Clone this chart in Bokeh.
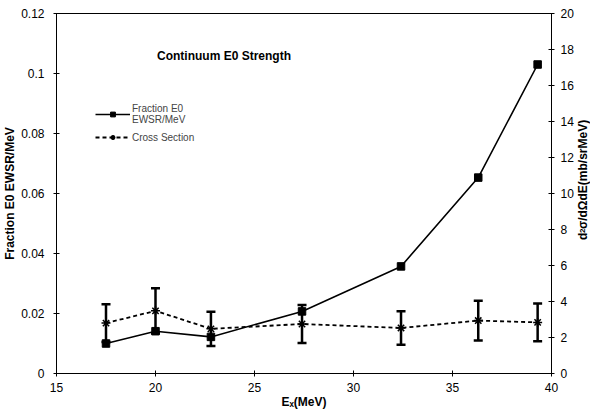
from bokeh.plotting import figure
from bokeh.layouts import row
from bokeh.models import (LinearAxis, Range1d, FixedTicker, Whisker, TeeHead,
                          ColumnDataSource, Legend, LegendItem, Label, Div)
from bokeh.embed import file_html
from bokeh.resources import INLINE

# ---- data ----
ex = [17.5, 20.0, 22.8, 27.4, 32.4, 36.3, 39.3]
frac = [0.0100, 0.0141, 0.0122, 0.0207, 0.0357, 0.0653, 0.1030]
cs = [2.80, 3.48, 2.48, 2.75, 2.53, 2.94, 2.84]
cs_err = [1.05, 1.25, 0.95, 1.05, 0.93, 1.10, 1.05]

x_ticks = [15, 20, 25, 30, 35, 40]
left_ticks = [0, 0.02, 0.04, 0.06, 0.08, 0.1, 0.12]
left_tick_labels = ["0", "0.02", "0.04", "0.06", "0.08", "0.1", "0.12"]
right_ticks = [0, 2, 4, 6, 8, 10, 12, 14, 16, 18, 20]

FONT = "Liberation Sans"

p = figure(width=576, height=413, output_backend="svg", toolbar_location=None,
           x_range=Range1d(15, 40), y_range=Range1d(0, 0.12),
           min_border_left=56, min_border_right=22, min_border_top=13,
           min_border_bottom=40)
p.extra_y_ranges = {"right": Range1d(0, 20)}
p.xgrid.visible = False
p.ygrid.visible = False
p.outline_line_color = "black"
p.outline_line_width = 1
p.background_fill_color = "white"
p.border_fill_color = "white"


def style_axis(ax):
    ax.axis_line_color = "black"
    ax.major_tick_line_color = "black"
    ax.major_tick_in = 3
    ax.major_tick_out = 3
    ax.minor_tick_line_color = None
    ax.major_label_text_font = FONT
    ax.major_label_text_font_size = "12px"
    ax.major_label_text_color = "black"
    ax.axis_label_text_font = FONT
    ax.axis_label_text_font_size = "12px"
    ax.axis_label_text_font_style = "bold"
    ax.axis_label_text_color = "black"


xa = p.xaxis[0]
style_axis(xa)
xa.ticker = FixedTicker(ticks=x_ticks)
xa.axis_label = "E\u2093(MeV)"
xa.major_label_standoff = 6
xa.axis_label_standoff = 0

ya = p.yaxis[0]
style_axis(ya)
ya.ticker = FixedTicker(ticks=left_ticks)
ya.major_label_overrides = {t: l for t, l in zip(left_ticks, left_tick_labels)}
ya.axis_label = "Fraction E0 EWSR/MeV"
ya.major_label_standoff = 9
ya.axis_label_standoff = 1

ra = LinearAxis(y_range_name="right")
style_axis(ra)
ra.ticker = FixedTicker(ticks=right_ticks)
ra.major_label_standoff = 6
p.add_layout(ra, "right")

src = ColumnDataSource(dict(
    ex=ex, frac=frac, cs=cs,
    lo=[c - e for c, e in zip(cs, cs_err)],
    hi=[c + e for c, e in zip(cs, cs_err)],
))

w = Whisker(base="ex", upper="hi", lower="lo", source=src, y_range_name="right",
            line_color="black", line_width=2.5,
            upper_head=TeeHead(size=9, line_width=2.5, line_color="black"),
            lower_head=TeeHead(size=9, line_width=2.5, line_color="black"))
p.add_layout(w)

l1 = p.line("ex", "frac", source=src, line_color="black", line_width=1.6)
m1 = p.scatter("ex", "frac", source=src, marker="square", size=7.5,
               fill_color="black", line_color="black")

l2 = p.line("ex", "cs", source=src, y_range_name="right", line_color="black",
            line_width=1.8, line_dash="4 3")
m2 = p.scatter("ex", "cs", source=src, y_range_name="right", marker="asterisk",
               size=9, line_color="black", line_width=1.5)

legend = Legend(items=[
    LegendItem(label="Fraction E0\nEWSR/MeV", renderers=[l1, m1]),
    LegendItem(label="Cross Section", renderers=[l2, m2]),
], location=(39, 230), border_line_color=None, background_fill_alpha=0,
    label_text_font=FONT, label_text_font_size="10px", glyph_width=35,
    glyph_height=12, label_standoff=2, spacing=6, padding=0, margin=0,
    label_height=10)
p.add_layout(legend)

title = Label(x=23.46, y=0.106, text="Continuum E0 Strength",
              text_font=FONT, text_font_size="12px", text_font_style="bold",
              text_align="center", text_baseline="middle", text_color="black")
p.add_layout(title)

right_label_html = (
    '<div style="height:413px;width:14px;box-sizing:border-box;'
    'padding-top:53px;writing-mode:vertical-rl;transform:rotate(180deg);'
    'display:flex;align-items:center;justify-content:center;white-space:nowrap;'
    "font-family:'Liberation Sans';font-size:12px;font-weight:bold;color:black;"
    'line-height:14px;">'
    'd<sup style="font-size:8px;">2</sup>\u03c3/d\u03a9dE(mb/srMeV)</div>'
)
right_label = Div(text=right_label_html, width=14, height=413,
                  margin=(0, 0, 0, 0), styles={"background": "white"})

layout = row(p, right_label, spacing=0)

open("out.html", "w").write(file_html(layout, INLINE))
